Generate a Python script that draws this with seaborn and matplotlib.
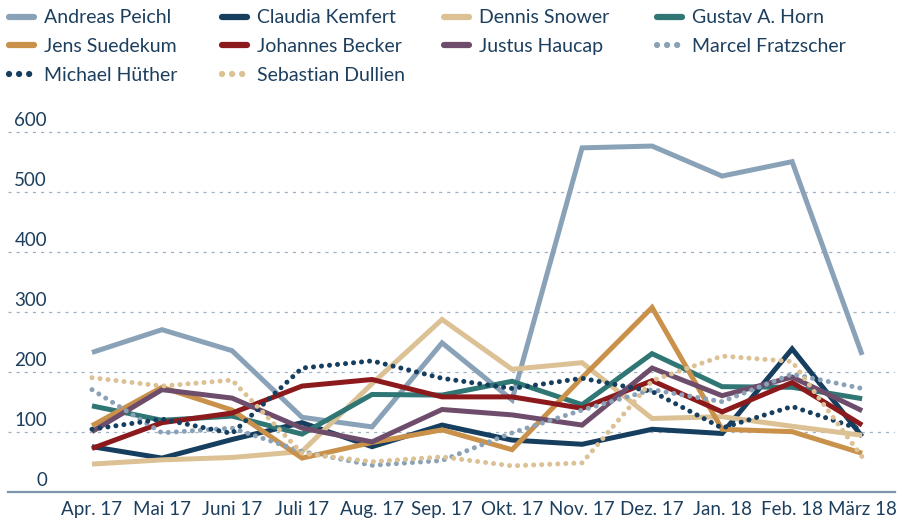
"""
plot.py

Monthly series for ten economists, April 2017 to March 2018.
"""

import numpy as np
import pandas as pd
import matplotlib
matplotlib.use("Agg")
import matplotlib.pyplot as plt
import seaborn as sns

MONTHS = ["Apr. 17", "Mai 17", "Juni 17", "Juli 17", "Aug. 17", "Sep. 17",
          "Okt. 17", "Nov. 17", "Dez. 17", "Jan. 18", "Feb. 18", "März 18"]

andreas_peichl = [232, 270, 235, 124, 108, 248, 153, 573, 576, 526, 550, 228]
claudia_kemfert = [75, 56, 87, 115, 75, 111, 86, 79, 104, 97, 238, 92]
dennis_snower = [46, 53, 57, 67, 180, 287, 204, 215, 122, 125, 109, 94]
gustav_horn = [143, 119, 126, 96, 162, 161, 184, 145, 230, 175, 174, 155]
jens_suedekum = [110, 174, 136, 56, 82, 103, 70, 190, 307, 104, 100, 64]
johannes_becker = [72, 115, 131, 176, 187, 158, 158, 139, 185, 133, 182, 111]
justus_haucap = [100, 170, 156, 106, 83, 137, 128, 111, 206, 160, 191, 135]
marcel_fratzscher = [170, 98, 106, 67, 44, 52, 98, 136, 170, 150, 196, 172]
michael_huether = [104, 121, 97, 206, 218, 189, 172, 189, 167, 106, 142, 103]
sebastian_dullien = [190, 176, 186, 64, 50, 58, 43, 48, 185, 226, 217, 58]

NAMES = ["Andreas Peichl", "Claudia Kemfert", "Dennis Snower", "Gustav A. Horn",
         "Jens Suedekum", "Johannes Becker", "Justus Haucap",
         "Marcel Fratzscher", "Michael Hüther", "Sebastian Dullien"]
SERIES = [andreas_peichl, claudia_kemfert, dennis_snower, gustav_horn,
          jens_suedekum, johannes_becker, justus_haucap, marcel_fratzscher,
          michael_huether, sebastian_dullien]
COLORS = ["#8aa2b8", "#163e5f", "#dcc195", "#2f7675", "#c9914a",
          "#8c1a1c", "#6d4d6b", "#8aa2b8", "#163e5f", "#dcc195"]
DOTTED = [False] * 7 + [True] * 3

TEXT_COLOR = "#1d3f5e"


# ====================
def main():
    sns.set_style("white")
    plt.rcParams["font.family"] = ["Lato", "DejaVu Sans"]

    fig = plt.figure(figsize=(9.05, 5.18), dpi=100)
    ax = fig.add_axes([0.0088, 0.0508, 0.9802, 0.7182])

    x = np.arange(len(MONTHS))
    for name, values, color, dotted in zip(NAMES, SERIES, COLORS, DOTTED):
        df = pd.DataFrame({"x": x, "value": values})
        sns.lineplot(data=df, x="x", y="value", ax=ax, color=color,
                     linewidth=3.6, label=name, sort=False)
        line = ax.lines[-1]
        if dotted:
            line.set_linestyle((0, (0.01, 1.6)))
            line.set_dash_capstyle("round")
        line.set_solid_capstyle("butt")
        line.set_solid_joinstyle("miter")

    ax.set_xlim(-1.2, 11.47)
    ax.set_ylim(0, 620)
    ax.set_xlabel("")
    ax.set_ylabel("")

    # Grid lines and in-plot y labels
    yticks = [100, 200, 300, 400, 500, 600]
    for yv in yticks:
        ax.axhline(yv, color="#9fb1c2", lw=0.9, ls=(0, (2.5, 4)), zorder=0)
    ax.set_yticks([])
    for yv in [0] + yticks:
        ax.text(39 / 887, yv + 5, str(yv), transform=ax.get_yaxis_transform(),
                ha="right", va="bottom", fontsize=13.5, color=TEXT_COLOR)

    ax.set_xticks(x)
    ax.set_xticklabels(MONTHS, fontsize=13.5, color=TEXT_COLOR)
    ax.tick_params(axis="x", length=0, pad=7)

    for side in ["top", "left", "right"]:
        ax.spines[side].set_visible(False)
    ax.spines["bottom"].set_color("#7d95ab")
    ax.spines["bottom"].set_linewidth(1.6)

    # Legend: four columns at fixed positions
    handles, labels = ax.get_legend_handles_labels()
    ax.get_legend().remove()
    col_x = [0.01, 0.245, 0.4905, 0.726]
    for c in range(4):
        leg = fig.legend(handles[c::4], labels[c::4], loc="upper left",
                         bbox_to_anchor=(col_x[c], 0.982), frameon=False,
                         fontsize=14, handlelength=1.3, handletextpad=0.5,
                         labelspacing=0.6, borderaxespad=0, borderpad=0)
        for t in leg.get_texts():
            t.set_color(TEXT_COLOR)
        for h in leg.get_lines():
            h.set_linewidth(4.5)
            h.set_solid_capstyle("round")

    fig.savefig("out.png", dpi=100)


# ====================
if __name__ == "__main__":

    main()
